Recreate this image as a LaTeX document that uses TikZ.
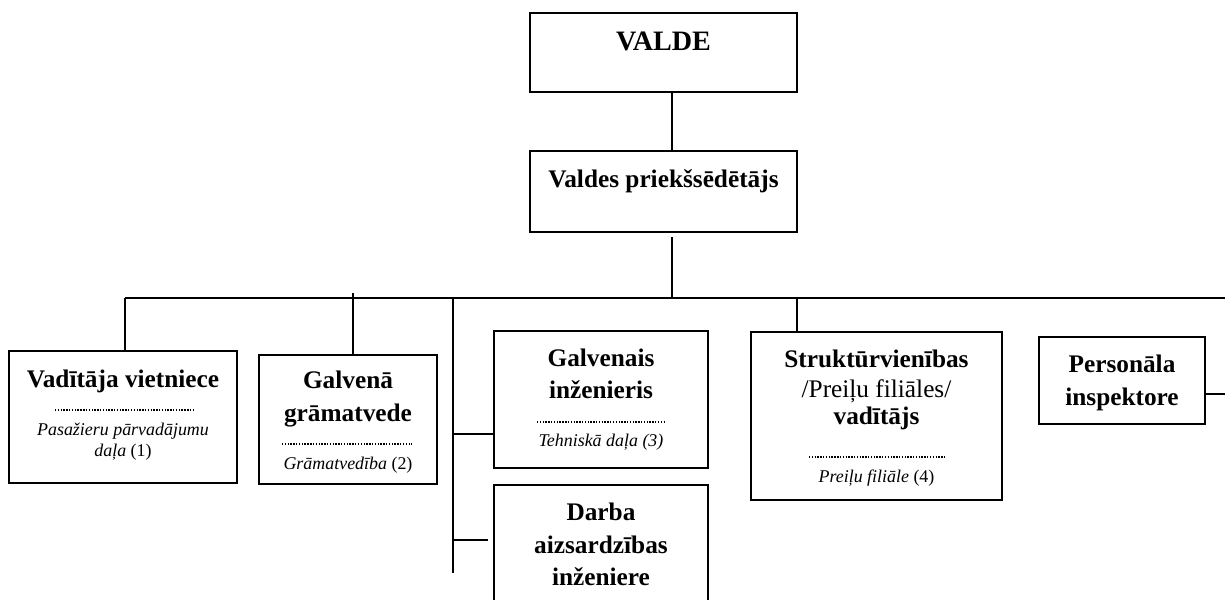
\documentclass[tikz,border=0pt]{standalone}
\usepackage{fontspec}
\setmainfont{Liberation Serif}
\usetikzlibrary{calc}

\tikzset{
  unit/.style={draw, line width=.8pt, inner sep=0pt},
  ttl/.style={font=\fontsize{14.4}{17}\selectfont\bfseries, anchor=base, inner sep=0pt},
  plain/.style={font=\fontsize{14.4}{17}\selectfont, anchor=base, inner sep=0pt},
  sub/.style={font=\fontsize{10.2}{12}\selectfont, anchor=base, inner sep=0pt},
  rule/.style={line width=.6pt, dash pattern=on .8pt off .8pt},
  link/.style={line width=.8pt}
}

\begin{document}
\begin{tikzpicture}[x=.02cm, y=-.02cm]
\useasboundingbox (0,0) rectangle (1225,599);

\node[unit, minimum width=5.34cm, minimum height=1.58cm] (valde) at (663.5,52.5) {};
\node[unit, minimum width=5.34cm, minimum height=1.62cm] (pred) at (663.5,191.5) {};
\node[unit, minimum width=4.56cm, minimum height=2.64cm] (vad) at (123,417) {};
\node[unit, minimum width=3.56cm, minimum height=2.58cm] (gram) at (348,419.5) {};
\node[unit, minimum width=4.28cm, minimum height=2.74cm] (ginz) at (601,399.5) {};
\node[unit, minimum width=4.28cm, minimum height=3.1cm] (darba) at (601,562.5) {};
\node[unit, minimum width=5.02cm, minimum height=3.36cm] (strukt) at (876.5,416) {};
\node[unit, minimum width=3.32cm, minimum height=1.74cm] (pers) at (1122,380.5) {};

\node[ttl, font=\fontsize{16}{19}\selectfont\bfseries] (valdeT) at (663.5,50) {VALDE};
\node[ttl] (predT) at (663.5,187) {Valdes priekšsēdētājs};

\node[ttl] (vadT) at (123,387) {Vadītāja vietniece};
\draw[rule] (55,410) -- (193,410);
\node[sub] (vadA) at (123,435) {\itshape Pasažieru pārvadājumu};
\node[sub] (vadB) at (123,456) {\itshape daļa\upshape{} (1)};

\node[ttl] (gramA) at (348,388) {Galvenā};
\node[ttl] (gramB) at (348,421) {grāmatvede};
\draw[rule] (282,444) -- (412,444);
\node[sub] (gramC) at (348,469) {\itshape Grāmatvedība\upshape{} (2)};

\node[ttl] (ginzA) at (601,366) {Galvenais};
\node[ttl] (ginzB) at (601,398) {inženieris};
\draw[rule] (537,422) -- (664,422);
\node[sub] (ginzC) at (601,446) {\itshape Tehniskā daļa (3)};

\node[ttl] (darbaA) at (601,520) {Darba};
\node[ttl] (darbaB) at (601,553) {aizsardzības};
\node[ttl] (darbaC) at (601,585) {inženiere};

\node[ttl] (struktA) at (876.5,367) {Struktūrvienības};
\node[plain] (struktB) at (876.5,397) {/Preiļu filiāles/};
\node[ttl] (struktC) at (876.5,424) {vadītājs};
\draw[rule] (809,457) -- (945,457);
\node[sub] (struktD) at (876.5,482) {\itshape Preiļu filiāle\upshape{} (4)};

\node[ttl] (persA) at (1122,372) {Personāla};
\node[ttl] (persB) at (1122,405) {inspektore};

\coordinate (busL) at (125,298);
\coordinate (busR) at (1225,298);
\coordinate (stem) at (672,298);
\coordinate (stemT) at (672,237);
\coordinate (dropG) at (353,293);
\coordinate (spineT) at (453,298);
\coordinate (spineB) at (453,573);
\coordinate (brG) at (453,434);
\coordinate (brD) at (453,540);
\coordinate (dropS) at (797,298);
\coordinate (edgeR) at (1225,394);

\draw[link] (valde.south -| stem) -- (pred.north -| stem);
\draw[link] (stemT) -- (stem);
\draw[link] (busL) -- (busR);
\draw[link] (busL) -- (busL |- vad.north);
\draw[link] (dropG) -- (dropG |- gram.north);
\draw[link] (spineT) -- (spineB);
\draw[link] (brG) -- (brG -| ginz.west);
\draw[link] (brD) -- ([xshift=-.1cm]brD -| darba.west);
\draw[link] (dropS) -- (dropS |- strukt.north);
\draw[link] (pers.east |- edgeR) -- (edgeR);
\end{tikzpicture}
\end{document}
